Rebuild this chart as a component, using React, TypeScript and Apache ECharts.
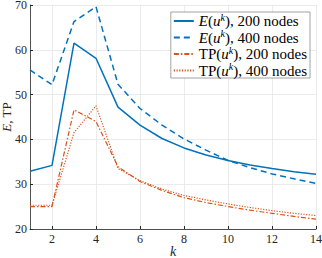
import React, { useEffect, useRef } from "react";
import * as echarts from "echarts";

const kValues = ["1","2","3","4","5","6","7","8","9","10","11","12","13","14"];
const e200 = [32.9, 34.2, 61.5, 58.1, 47.2, 43.2, 40.2, 38.1, 36.5, 35.3, 34.3, 33.5, 32.8, 32.2];
const e400 = [55.5, 52.2, 66.3, 69.6, 52.3, 46.9, 43.2, 40.1, 37.6, 35.3, 33.7, 32.3, 31.2, 30.2];
const tp200 = [25.0, 25.0, 46.6, 44.0, 33.9, 30.6, 28.6, 27.0, 25.9, 25.0, 24.2, 23.5, 22.8, 22.2];
const tp400 = [25.3, 25.3, 41.5, 47.5, 33.5, 30.8, 28.9, 27.5, 26.5, 25.6, 24.8, 24.1, 23.5, 23.0];
const yTicks = [20, 30, 40, 50, 60, 70];

const BLUE = "#0072BD";
const ORANGE = "#D95319";
const FONT = "Liberation Serif";
const LSIZE = 15;

const legendNames: Record<string, string> = {
  E200: "{i|E}{r|(}{i|u}{sup|k}{r|), 200 nodes}",
  E400: "{i|E}{r|(}{i|u}{sup|k}{r|), 400 nodes}",
  TP200: "{r|TP(}{i|u}{sup|k}{r|), 200 nodes}",
  TP400: "{r|TP(}{i|u}{sup|k}{r|), 400 nodes}",
};

export default function App() {
  const ref = useRef<HTMLDivElement>(null);
  useEffect(() => {
    if (!ref.current) return;
    const chart = echarts.init(ref.current, null, { renderer: "svg" });
    const evenOnly = (idx: number) => (idx + 1) % 2 === 0;
    const itemText = { fontSize: LSIZE, fontFamily: FONT, color: "#000" };
    chart.setOption({
      animation: false,
      grid: { left: 30, right: 6, top: 5, bottom: 29, outerBoundsMode: "none", containLabel: false },
      xAxis: {
        type: "category",
        data: kValues,
        boundaryGap: false,
        name: "{i|k}",
        nameLocation: "middle",
        nameGap: 15,
        nameMoveOverlap: false,
        nameTextStyle: {
          fontFamily: FONT,
          fontSize: 14,
          color: "#262626",
          rich: { i: { fontStyle: "italic", fontFamily: FONT, fontSize: 14, color: "#262626" } },
        },
        axisLine: { lineStyle: { color: "#262626", width: 0.8 } },
        axisTick: { inside: true, length: 3, interval: (i: number) => evenOnly(i), lineStyle: { color: "#262626" } },
        axisLabel: { interval: (i: number) => evenOnly(i), color: "#262626", fontFamily: FONT, fontSize: 12, margin: 4 },
        splitLine: { show: true, interval: (i: number) => evenOnly(i), lineStyle: { color: "#e6e6e6", width: 0.8 } },
      },
      yAxis: {
        type: "value",
        min: yTicks[0],
        max: yTicks[yTicks.length - 1],
        interval: 10,
        name: "{i|E}, TP",
        nameLocation: "middle",
        nameGap: 17,
        nameRotate: 90,
        nameMoveOverlap: false,
        nameTextStyle: {
          fontFamily: FONT,
          fontSize: 13,
          color: "#262626",
          rich: { i: { fontStyle: "italic", fontFamily: FONT, fontSize: 13, color: "#262626" } },
        },
        axisLine: { show: true, lineStyle: { color: "#262626", width: 0.8 } },
        axisTick: { show: true, inside: true, length: 3, lineStyle: { color: "#262626" } },
        axisLabel: { color: "#262626", fontFamily: FONT, fontSize: 12, margin: 3 },
        splitLine: { show: true, lineStyle: { color: "#e6e6e6", width: 0.8 } },
      },
      legend: {
        orient: "vertical",
        right: 12,
        top: 12,
        backgroundColor: "#ffffff",
        borderColor: "#8c8c8c",
        borderWidth: 0.8,
        borderRadius: 0,
        padding: [0, 3, 0, 2],
        itemGap: 0,
        itemWidth: 20,
        itemHeight: 16.5,
        itemStyle: { opacity: 0 },
        data: [
          { name: "E200", textStyle: itemText },
          { name: "E400", textStyle: itemText },
          { name: "TP200", textStyle: itemText },
          { name: "TP400", textStyle: itemText },
        ],
        formatter: (name: string) => legendNames[name],
        textStyle: {
          fontFamily: FONT,
          fontSize: LSIZE,
          color: "#000",
          rich: {
            r: { fontFamily: FONT, fontSize: LSIZE, color: "#000" },
            i: { fontStyle: "italic", fontFamily: FONT, fontSize: LSIZE, color: "#000" },
            sup: { fontStyle: "italic", fontFamily: FONT, fontSize: 10, color: "#000", padding: [0, 0, 8, 0] },
          },
        },
      },
      series: [
        { name: "E200", type: "line", data: e200, symbol: "none", lineStyle: { color: BLUE, width: 1.5, type: "solid" }, itemStyle: { color: BLUE } },
        { name: "E400", type: "line", data: e400, symbol: "none", lineStyle: { color: BLUE, width: 1.5, type: [6, 4] }, itemStyle: { color: BLUE } },
        { name: "TP200", type: "line", data: tp200, symbol: "none", lineStyle: { color: ORANGE, width: 1.2, type: [5, 2, 1.5, 2] }, itemStyle: { color: ORANGE } },
        { name: "TP400", type: "line", data: tp400, symbol: "none", lineStyle: { color: ORANGE, width: 1.2, type: [1.2, 1.5] }, itemStyle: { color: ORANGE } },
      ],
    });
    return () => chart.dispose();
  }, []);
  return <div ref={ref} style={{ width: 322, height: 258, position: "absolute", left: 0, top: 0 }} />;
}
